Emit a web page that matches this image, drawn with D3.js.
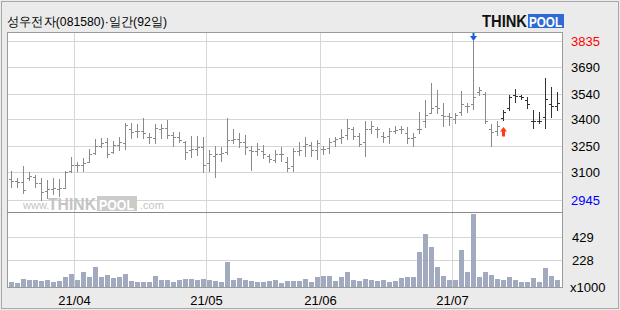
<!DOCTYPE html>
<html>
<head>
<meta charset="utf-8">
<script src="https://cdn.jsdelivr.net/npm/d3@7"></script>
<style>
  html, body { margin: 0; padding: 0; background: #ebebeb; }
  svg { display: block; }
  text { font-family: "Liberation Sans Narrow", "Liberation Sans", Arial, sans-serif; }
</style>
</head>
<body>
<script>
const title = '성우전자(081580)·일간(92일)';

// daily OHLC, 92 sessions (2021-03-17 .. 2021-07-26)
const open = [
  3060, 3050, 3045, 3070, 3075, 3040, 2995, 3005, 3005, 3010,
  3110, 3140, 3140, 3160, 3210, 3250, 3270, 3215, 3255, 3265,
  3340, 3330, 3330, 3300, 3290, 3345, 3350, 3310, 3300, 3270,
  3225, 3230, 3240, 3150, 3190, 3200, 3215, 3280, 3285, 3270,
  3225, 3220, 3220, 3190, 3170, 3205, 3160, 3135, 3220, 3250,
  3255, 3225, 3230, 3235, 3275, 3290, 3310, 3340, 3305, 3270,
  3345, 3340, 3305, 3305, 3330, 3340, 3320, 3290, 3345, 3390,
  3430, 3470, 3420, 3415, 3400, 3440, 3470, 3480, 3550, 3540,
  3345, 3330, 3405, 3460, 3530, 3525, 3505, 3390, 3390, 3410,
  3480, 3470
];
const high = [
  3105, 3070, 3135, 3100, 3085, 3070, 3055, 3070, 3065, 3110,
  3185, 3155, 3180, 3230, 3285, 3290, 3290, 3275, 3300, 3375,
  3375, 3370, 3405, 3320, 3370, 3370, 3395, 3325, 3325, 3275,
  3305, 3305, 3295, 3225, 3245, 3240, 3405, 3340, 3320, 3310,
  3245, 3265, 3255, 3200, 3225, 3240, 3185, 3235, 3270, 3300,
  3270, 3280, 3245, 3290, 3300, 3340, 3400, 3355, 3320, 3390,
  3385, 3355, 3325, 3350, 3360, 3360, 3355, 3320, 3435, 3505,
  3600, 3560, 3490, 3430, 3430, 3555, 3490, 3835, 3580, 3550,
  3370, 3385, 3450, 3535, 3565, 3535, 3520, 3450, 3435, 3630,
  3580, 3550
];
const low = [
  3015, 3020, 2985, 3055, 3020, 2945, 2955, 2980, 2970, 3010,
  3100, 3105, 3105, 3155, 3205, 3240, 3185, 3210, 3225, 3230,
  3290, 3300, 3290, 3265, 3265, 3290, 3290, 3250, 3270, 3175,
  3185, 3195, 3100, 3110, 3075, 3165, 3205, 3265, 3240, 3205,
  3115, 3195, 3180, 3155, 3155, 3165, 3105, 3110, 3195, 3190,
  3190, 3175, 3205, 3210, 3250, 3265, 3285, 3285, 3245, 3190,
  3320, 3300, 3270, 3265, 3320, 3320, 3265, 3250, 3320, 3355,
  3430, 3430, 3360, 3365, 3375, 3420, 3440, 3455, 3530, 3375,
  3250, 3310, 3395, 3450, 3495, 3510, 3460, 3350, 3375, 3350,
  3410, 3450
];
const close = [
  3050, 3045, 3000, 3080, 3040, 2990, 3005, 3010, 3010, 3100,
  3140, 3140, 3150, 3200, 3250, 3265, 3200, 3255, 3270, 3365,
  3325, 3330, 3320, 3295, 3350, 3350, 3310, 3300, 3280, 3215,
  3230, 3240, 3140, 3200, 3205, 3210, 3280, 3285, 3270, 3240,
  3220, 3230, 3200, 3175, 3205, 3200, 3125, 3220, 3225, 3260,
  3225, 3265, 3230, 3270, 3285, 3300, 3350, 3305, 3260, 3345,
  3360, 3340, 3300, 3330, 3335, 3340, 3290, 3300, 3345, 3420,
  3460, 3460, 3415, 3410, 3420, 3480, 3470, 3520, 3560, 3390,
  3325, 3360, 3440, 3520, 3525, 3520, 3480, 3390, 3390, 3510,
  3470, 3490
];
// volume, x1000 shares
const volume = [
  46, 37, 72, 57, 57, 54, 57, 40, 49, 86,
  114, 63, 126, 89, 174, 89, 106, 77, 83, 114,
  54, 40, 40, 46, 97, 57, 57, 40, 60, 72,
  69, 57, 72, 57, 54, 40, 212, 63, 80, 57,
  54, 46, 43, 52, 57, 31, 54, 54, 54, 66,
  40, 89, 97, 92, 49, 89, 126, 63, 54, 72,
  60, 52, 63, 40, 49, 74, 89, 89, 303, 452,
  340, 174, 97, 57, 63, 315, 126, 629, 89, 126,
  106, 72, 63, 89, 63, 46, 40, 80, 46, 166,
  97, 63
];

const monthLabels = ['21/04', '21/05', '21/06', '21/07'];
const monthStart = [11, 33, 52, 74];
const priceTicks = [3835, 3690, 3540, 3400, 3250, 3100, 2945];
const volTicks = [429, 228];
const sellSignal = 77;
const buySignal = 82;

const width = 620, height = 310;
const L = 7, R = 562, T = 32, SEP = 212, B = 287;

const svg = d3.select('body').append('svg')
  .attr('width', width)
  .attr('height', height);

// frame + plot background
svg.append('rect')
  .attr('x', 1.5).attr('y', 1.5).attr('width', width - 3).attr('height', height - 3)
  .attr('fill', '#ebebeb').attr('stroke', '#a8a8a8');
svg.append('rect')
  .attr('x', L + 0.5).attr('y', T + 0.5).attr('width', R - L).attr('height', B - T)
  .attr('fill', '#fff');

const x = d3.scaleBand().domain(d3.range(open.length)).range([8, 560]);
const y = d3.scaleLinear().domain([2945, 3835]).range([200, 41]);
const yv = d3.scaleLinear().domain([0, 643]).range([B, SEP]);

// grid
svg.append('g').selectAll('line').data(priceTicks).join('line')
  .attr('x1', L).attr('x2', R)
  .attr('y1', d => Math.round(y(d)) + 0.5).attr('y2', d => Math.round(y(d)) + 0.5)
  .attr('stroke', '#d6d6d6');
svg.append('g').selectAll('line').data(volTicks).join('line')
  .attr('x1', L).attr('x2', R)
  .attr('y1', d => Math.round(yv(d)) + 0.5).attr('y2', d => Math.round(yv(d)) + 0.5)
  .attr('stroke', '#d6d6d6');
svg.append('g').selectAll('line').data(monthStart).join('line')
  .attr('x1', d => x(d) + 0.5).attr('x2', d => x(d) + 0.5)
  .attr('y1', T).attr('y2', B)
  .attr('stroke', '#d6d6d6');

// watermark
const wm = svg.append('g').attr('fill', '#c4c4c4');
wm.append('text').attr('x', 23).attr('y', 209).attr('font-size', 11).text('www.');
wm.append('text').attr('x', 48).attr('y', 210).attr('font-size', 17).attr('font-weight', 'bold')
  .attr('font-family', 'Liberation Sans, Arial, sans-serif')
  .attr('textLength', 48).attr('lengthAdjust', 'spacingAndGlyphs').text('THINK');
wm.append('rect').attr('x', 97).attr('y', 196).attr('width', 40).attr('height', 15).attr('fill', '#cbcbcb');
wm.append('text').attr('x', 99).attr('y', 210).attr('font-size', 15).attr('font-weight', 'bold')
  .attr('font-family', 'Liberation Sans, Arial, sans-serif')
  .attr('fill', '#fff').attr('textLength', 35).attr('lengthAdjust', 'spacingAndGlyphs').text('POOL');
wm.append('text').attr('x', 140).attr('y', 209).attr('font-size', 11).text('.com');

// volume bars
svg.append('g').selectAll('rect').data(volume).join('rect')
  .attr('x', (d, i) => x(i) + 1)
  .attr('y', d => Math.round(yv(d)))
  .attr('width', x.bandwidth() - 1)
  .attr('height', d => B - Math.round(yv(d)))
  .attr('fill', '#a2aac0');

// OHLC bars
const bars = svg.append('g').selectAll('g').data(open).join('g')
  .attr('stroke', (d, i) => i >= buySignal ? '#333' : '#8a8a8a')
  .attr('transform', (d, i) => `translate(${x(i) + 3.5},0)`);
bars.append('line')
  .attr('y1', (d, i) => Math.round(y(high[i])))
  .attr('y2', (d, i) => Math.round(y(low[i])) + 1);
bars.append('line')
  .attr('x1', -2.5).attr('x2', 0)
  .attr('y1', (d, i) => Math.round(y(open[i])) + 0.5)
  .attr('y2', (d, i) => Math.round(y(open[i])) + 0.5);
bars.append('line')
  .attr('x1', 0).attr('x2', 2.5)
  .attr('y1', (d, i) => Math.round(y(close[i])) + 0.5)
  .attr('y2', (d, i) => Math.round(y(close[i])) + 0.5);

// signals
const sx = x(sellSignal) + 3.5, sy = Math.round(y(high[sellSignal]));
svg.append('path')
  .attr('d', `M${sx - 1},${sy - 9}h2v4h2.5l-3.5,5l-3.5,-5h2.5z`)
  .attr('fill', '#1a5fd8');
const bx = x(buySignal) + 3.5, by = Math.round(y(low[buySignal])) + 7;
svg.append('path')
  .attr('d', `M${bx},${by}l3.5,4.5h-2v5h-3v-5h-2z`)
  .attr('fill', '#ff3b1a');

// borders
svg.append('rect')
  .attr('x', L + 0.5).attr('y', T + 0.5).attr('width', R - L).attr('height', B - T)
  .attr('fill', 'none').attr('stroke', '#9a9a9a');
svg.append('line')
  .attr('x1', L).attr('x2', R).attr('y1', SEP + 0.5).attr('y2', SEP + 0.5)
  .attr('stroke', '#8a8a8a');

// right axis labels
svg.append('g').selectAll('text').data(priceTicks).join('text')
  .attr('x', 571).attr('y', d => y(d) + 5)
  .attr('font-size', 13)
  .attr('fill', (d, i) => i === 0 ? '#ff0000' : i === priceTicks.length - 1 ? '#0000ff' : '#000')
  .text(d => d);
svg.append('g').selectAll('text').data(volTicks).join('text')
  .attr('x', 572).attr('y', d => yv(d) + 5)
  .attr('font-size', 13)
  .text(d => d);
svg.append('text').attr('x', 570).attr('y', B + 5).attr('font-size', 13).text('x1000');

// x axis labels
svg.append('g').selectAll('text').data(monthStart).join('text')
  .attr('x', d => x(d) + 0.5).attr('y', 305)
  .attr('text-anchor', 'middle').attr('font-size', 13)
  .text((d, i) => monthLabels[i]);

// title
svg.append('text')
  .attr('x', 7).attr('y', 26)
  .attr('font-family', '"Noto Sans CJK KR", sans-serif')
  .attr('font-size', 13)
  .attr('textLength', 160).attr('lengthAdjust', 'spacingAndGlyphs')
  .text(title);

// logo
const logo = svg.append('g');
logo.append('text').attr('x', 482).attr('y', 27)
  .attr('font-family', 'Liberation Sans, Arial, sans-serif')
  .attr('font-size', 16).attr('font-weight', 'bold').attr('fill', '#111')
  .attr('textLength', 45).attr('lengthAdjust', 'spacingAndGlyphs').text('THINK');
logo.append('rect').attr('x', 528).attr('y', 14).attr('width', 36).attr('height', 14).attr('fill', '#2e6ad6');
logo.append('text').attr('x', 529).attr('y', 27)
  .attr('font-family', 'Liberation Sans, Arial, sans-serif')
  .attr('font-size', 15).attr('font-weight', 'bold').attr('fill', '#fff')
  .attr('textLength', 33).attr('lengthAdjust', 'spacingAndGlyphs').text('POOL');
</script>
</body>
</html>
